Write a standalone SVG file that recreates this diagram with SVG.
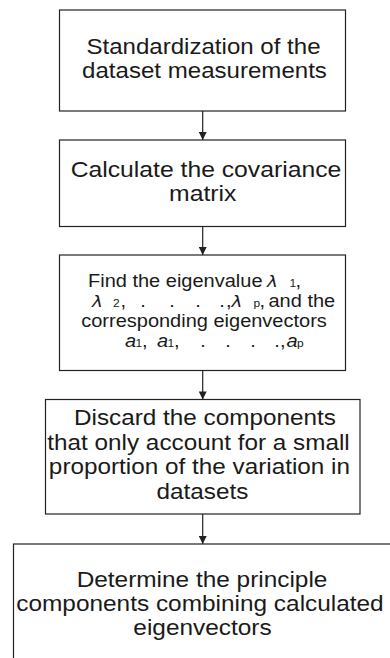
<svg xmlns="http://www.w3.org/2000/svg" width="390" height="658" viewBox="0 0 390 658">
<defs>
<style>
.box{fill:#fff;stroke:#222;stroke-width:1.2}
.t{font-family:"Liberation Sans",Arial,sans-serif;fill:#1a1a1a;text-anchor:middle}
.s{font-family:"Liberation Sans",Arial,sans-serif;fill:#1a1a1a;font-size:17.5px}
.big{font-size:21.5px}
.mid{font-size:17.5px}
.sub{font-size:10.5px}
.gk{font-family:"DejaVu Sans","Liberation Sans",sans-serif;font-style:italic;font-size:16px}
.it{font-style:italic}
.edge{stroke:#222;stroke-width:1.2;fill:none}
</style>
<marker id="ah" viewBox="0 0 10 10" refX="10" refY="5" markerWidth="10" markerHeight="8" markerUnits="userSpaceOnUse" orient="auto">
<path d="M0,0 L10,5 L0,10 Z" fill="#222"/>
</marker>
</defs>
<rect width="390" height="658" fill="#fff"/>
<g id="connectors">
<line class="edge" x1="202.7" y1="111" x2="202.7" y2="140" marker-end="url(#ah)"/>
<line class="edge" x1="202.7" y1="226.5" x2="202.7" y2="255" marker-end="url(#ah)"/>
<line class="edge" x1="202.7" y1="370.5" x2="202.7" y2="399.5" marker-end="url(#ah)"/>
<line class="edge" x1="202.7" y1="514" x2="202.7" y2="544" marker-end="url(#ah)"/>
</g>
<g id="n1">
<rect class="box" x="59.5" y="10" width="286" height="101"/>
<g transform="scale(1.12 1)">
<text class="t big" x="181.7" y="54.5">Standardization of the</text>
<text class="t big" x="182.6" y="78.5">dataset measurements</text>
</g>
</g>
<g id="n2">
<rect class="box" x="59.5" y="140" width="286" height="86.5"/>
<g transform="scale(1.15 1)">
<text class="t big" x="179.1" y="177">Calculate the covariance</text>
<text class="t big" x="176.3" y="201.5">matrix</text>
</g>
</g>
<g id="n3">
<rect class="box" x="59.5" y="255" width="286" height="115.5"/>
<g transform="scale(1.143 1)">
<text class="s" y="287"><tspan x="77">Find the eigenvalue</tspan><tspan class="gk" x="233.6">λ</tspan><tspan class="sub" x="253.3">1</tspan><tspan x="258.5">,</tspan></text>
<text class="s" y="307"><tspan class="gk" x="80.5">λ</tspan><tspan class="sub" x="98.9">2</tspan><tspan x="105.4">,</tspan><tspan x="122.7">.</tspan><tspan x="148">.</tspan><tspan x="170.8">.</tspan><tspan x="191.8">.</tspan><tspan x="197.7">,</tspan><tspan class="gk" x="202.5">λ</tspan><tspan class="sub" x="221.8">p</tspan><tspan x="227">,</tspan><tspan x="234.9">and the</tspan></text>
<text class="t mid" x="178.5" y="327">corresponding eigenvectors</text>
<text class="s" y="347"><tspan class="it" x="109.4">a</tspan><tspan class="sub" x="118.5">1</tspan><tspan x="124.2">,</tspan><tspan class="it" x="137.4">a</tspan><tspan class="sub" x="146.5">1</tspan><tspan x="152.2">,</tspan><tspan x="175.2">.</tspan><tspan x="197">.</tspan><tspan x="218.9">.</tspan><tspan x="239.9">.</tspan><tspan x="245">,</tspan><tspan class="it" x="250.7">a</tspan><tspan class="sub" x="259.8">p</tspan></text>
</g>
</g>
<g id="n4">
<rect class="box" x="45.5" y="399.5" width="314.5" height="114.5"/>
<g transform="scale(1.13 1)">
<text class="t big" x="181.4" y="425.5">Discard the components</text>
<text class="t big" x="175.7" y="450">that only account for a small</text>
<text class="t big" x="176.5" y="474.5">proportion of the variation in</text>
<text class="t big" x="179.2" y="499">datasets</text>
</g>
</g>
<g id="n5">
<rect class="box" x="13.5" y="544" width="380" height="130"/>
<g transform="scale(1.135 1)">
<text class="t big" x="178.0" y="587">Determine the principle</text>
<text class="t big" x="176.2" y="611">components combining calculated</text>
<text class="t big" x="178.4" y="635">eigenvectors</text>
</g>
</g>
</svg>
